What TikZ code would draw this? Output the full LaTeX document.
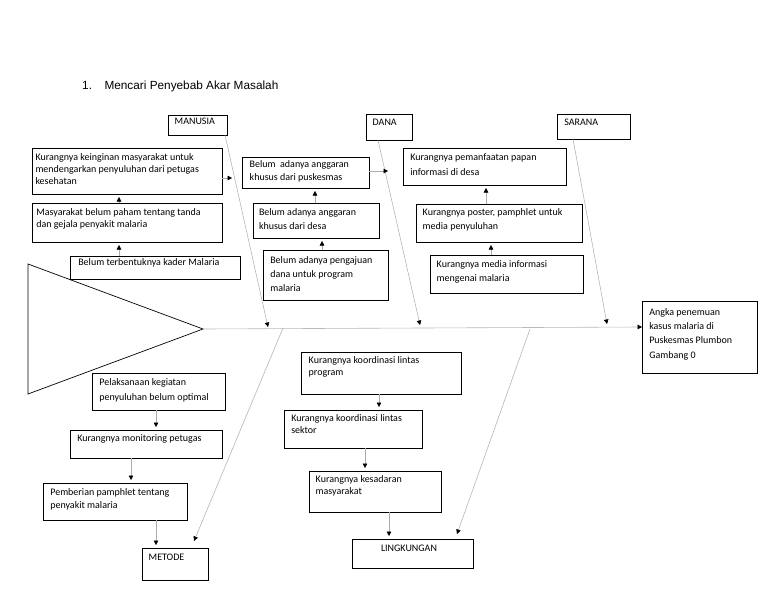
\documentclass[tikz,border=0pt]{standalone}
\usepackage{fontspec}
\setmainfont{Carlito}
\newfontfamily\titlefont{Liberation Sans}
\usetikzlibrary{arrows.meta,calc}
\tikzset{
  boxst/.style={draw=black, line width=0.7pt, fill=white, anchor=north west, inner sep=0pt, outer sep=0pt},
  conn/.style={draw=gray!65, line width=0.5pt, shorten >=3pt, -{Triangle[length=4.5pt,width=4.5pt,color=black]}},
  bone/.style={draw=gray!65, line width=0.5pt, -{Triangle[length=4.5pt,width=4.5pt,color=black]}},
  spine/.style={draw=gray!55, line width=0.6pt, -{Triangle[length=4.5pt,width=4.5pt,color=black]}},
  headst/.style={draw=black, line width=0.7pt}
}
% name, x1, y1, x2, y2, left pad, first baseline, line spacing, text
\newcommand\cbox[9]{\node[boxst] (#1) at (#2,#3) {\parbox[b][\dimexpr #5pt-#3pt\relax][t]{\dimexpr #4pt-#2pt\relax}{\fontsize{10}{#8}\selectfont\raggedright\leftskip=#6pt\relax\rule{0pt}{#7pt}#9}};}
\newcommand\varr[3]{\draw[conn] ([xshift=#3pt]#1) -- ([xshift=#3pt]#1 |- #2);}
\begin{document}
\begin{tikzpicture}[x=1pt,y=-1pt]
\useasboundingbox (0,0) rectangle (768,594);
\fill[white] (0,0) rectangle (768,594);

\node[anchor=base west, inner sep=0pt] (title) at (82,89) {\titlefont\fontsize{11.8}{13}\selectfont 1.\hspace{12.5pt}Mencari Penyebab Akar Masalah};

% head triangle
\coordinate (tip) at (203,329);
\draw[headst] (28,264) -- (tip) -- (28,394) -- cycle;

% boxes
\cbox{manusia}{168}{115}{227}{135}{6.7}{9}{13}{MANUSIA}
\cbox{dana}{366}{114}{412}{140}{6.7}{11.5}{13}{DANA}
\cbox{sarana}{557}{114}{630}{139}{7.3}{11.5}{13}{SARANA}
\cbox{k1}{32}{148}{222}{194}{3.5}{12.7}{11.7}{Kurangnya keinginan masyarakat untuk\\mendengarkan penyuluhan dari petugas\\kesehatan}
\cbox{k2}{32}{203}{222}{242}{4.3}{12.7}{11.7}{Masyarakat belum paham tentang tanda\\dan gejala penyakit malaria}
\cbox{k3}{70}{256}{240}{279}{8.3}{9.5}{12}{Belum terbentuknya kader Malaria}
\cbox{d1}{242}{157}{369}{188}{7.7}{10.5}{13}{Belum\ \ adanya anggaran\\khusus dari puskesmas}
\cbox{d2}{253}{203}{379}{238}{6}{12.5}{14}{Belum adanya anggaran\\khusus dari desa}
\cbox{d3}{263}{250}{388}{300}{7.3}{13}{14}{Belum adanya pengajuan\\dana untuk program\\malaria}
\cbox{s1}{403}{148}{566}{185}{7.3}{12.5}{14.5}{Kurangnya pemanfaatan papan\\informasi di desa}
\cbox{s2}{416}{204}{582}{242}{6.7}{11.5}{14}{Kurangnya poster, pamphlet untuk\\media penyuluhan}
\cbox{s3}{430}{255}{583}{293}{6.7}{12.5}{14}{Kurangnya media informasi\\mengenai malaria}
\cbox{res}{642}{301}{757}{373}{7.3}{14}{14.4}{Angka penemuan\\kasus malaria di\\Puskesmas Plumbon\\Gambang 0}
\cbox{m1}{92}{373}{225}{410}{7.3}{12}{15.3}{Pelaksanaan kegiatan\\penyuluhan belum optimal}
\cbox{m2}{70}{430}{222}{458}{7.3}{11}{13}{Kurangnya monitoring petugas}
\cbox{m3}{43}{483}{187}{520}{7.3}{12.5}{13.3}{Pemberian pamphlet tentang\\penyakit malaria}
\cbox{metode}{142}{548}{208}{580}{6.7}{12.5}{13}{METODE}
\cbox{l1}{301}{352}{461}{394}{7.7}{11.5}{12.3}{Kurangnya koordinasi lintas\\program}
\cbox{l2}{284}{410}{422}{448}{7.3}{11}{12}{Kurangnya koordinasi lintas\\sektor}
\cbox{l3}{309}{471}{441}{512}{6.7}{11.5}{12.3}{Kurangnya kesadaran\\masyarakat}
\cbox{ling}{352}{539}{473}{568}{29}{12.5}{13}{LINGKUNGAN}

% spine
\draw[spine] (tip) -- ([yshift=10pt]res.west);

% bones
\coordinate (mB) at (268,327);
\coordinate (dB) at (420,325);
\coordinate (sB) at (607,324);
\coordinate (mT) at (283,328);
\coordinate (lT) at (530,329);
\draw[bone] ([xshift=-2pt]manusia.south east) -- (mB);
\draw[bone] ([xshift=-11pt]dana.south) -- (dB);
\draw[bone] ([xshift=-20.5pt]sarana.south) -- (sB);
\draw[bone] (mT) -- ([xshift=-14pt,yshift=7pt]metode.north east);
\draw[bone] (lT) -- ([xshift=-16pt,yshift=5pt]ling.north east);

% side arrows to bones
\coordinate (kA) at (232,178);
\coordinate (dA) at (388,171);
\draw[bone] ([yshift=-7pt]k1.east) -- (k1.east |- kA) -- (kA);
\draw[bone] ([yshift=1.5pt]d1.east) -- (dA);

% vertical arrows
\varr{k3.north}{k2.south}{-36}
\varr{k2.north}{k1.south}{-8}
\varr{d3.north}{d2.south}{-3.5}
\varr{d2.north}{d1.south}{-1}
\varr{s3.north}{s2.south}{-15.5}
\varr{s2.north}{s1.south}{-13}
\varr{m1.south}{m2.north}{-2.5}
\varr{m2.south}{m3.north}{-15}
\varr{m3.south}{metode.north}{41}
\varr{l1.south}{l2.north}{-2}
\varr{l2.south}{l3.north}{12}
\varr{l3.south}{ling.north}{14}
\end{tikzpicture}
\end{document}
